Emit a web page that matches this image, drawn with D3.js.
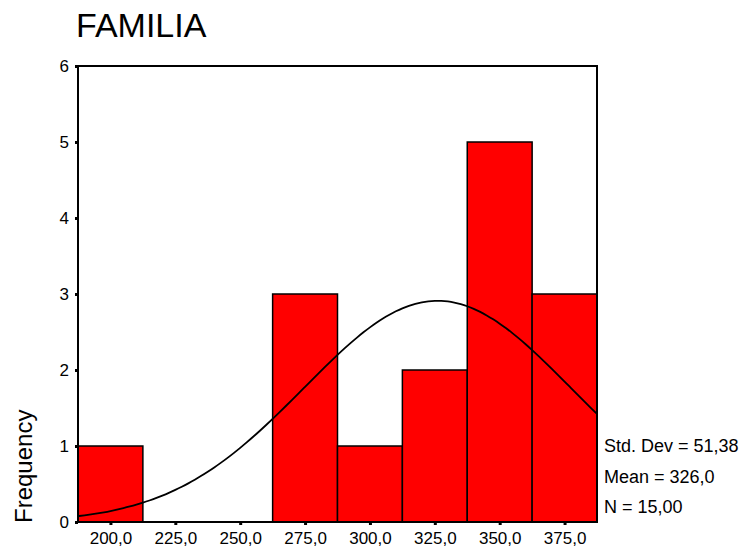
<!DOCTYPE html>
<html>
<head>
<meta charset="utf-8">
<script src="https://cdn.jsdelivr.net/npm/d3@7"></script>
<style>
  body { margin: 0; background: #fff; }
  svg text { font-family: "Liberation Sans", Arial, sans-serif; fill: #000; }
</style>
</head>
<body>
<div id="chart"></div>
<script>
// histogram bins (midpoints) and counts
const binMids = [200, 225, 250, 275, 300, 325, 350, 375];
const counts = [1, 0, 0, 3, 1, 2, 5, 3];
const xTicks = [200, 225, 250, 275, 300, 325, 350, 375];
const yTicks = [0, 1, 2, 3, 4, 5, 6];
const stats = {sd: 51.38, mean: 326.0, n: 15};
const statLabels = ["Std. Dev = 51,38", "Mean = 326,0", "N = 15,00"];
const binWidth = 25;

const margin = {top: 66, right: 145, bottom: 26, left: 78},
  width = 742 - margin.left - margin.right,
  height = 548 - margin.top - margin.bottom;

const svg = d3.select("#chart")
  .append("svg")
    .attr("width", 742)
    .attr("height", 548)
  .append("g")
    .attr("transform", "translate(" + margin.left + "," + margin.top + ")");

const x = d3.scaleLinear()
  .domain([187.5, 387.5])
  .range([0, width]);

const y = d3.scaleLinear()
  .domain([0, 6])
  .range([height, 0]);

// title
svg.append("text")
  .attr("x", -2)
  .attr("y", -29)
  .style("font-size", "34px")
  .text("FAMILIA");

// bars
svg.append("g")
  .selectAll("rect")
  .data(binMids.map(function(m, i) { return {mid: m, count: counts[i]}; }).filter(function(d) { return d.count > 0; }))
  .enter()
  .append("rect")
    .attr("x", function(d) { return x(d.mid - binWidth / 2); })
    .attr("y", function(d) { return y(d.count); })
    .attr("width", function(d) { return x(d.mid + binWidth / 2) - x(d.mid - binWidth / 2); })
    .attr("height", function(d) { return height - y(d.count); })
    .attr("fill", "#ff0000")
    .attr("stroke", "#000")
    .attr("stroke-width", 1.5);

// normal curve from mean / sd / N
const curvePts = d3.range(187.5, 387.6, 2.5).map(function(v) {
  const z = (v - stats.mean) / stats.sd;
  return [v, stats.n * binWidth / (stats.sd * Math.sqrt(2 * Math.PI)) * Math.exp(-0.5 * z * z)];
});
svg.append("path")
  .datum(curvePts)
  .attr("fill", "none")
  .attr("stroke", "#000")
  .attr("stroke-width", 1.8)
  .attr("d", d3.line()
    .x(function(d) { return x(d[0]); })
    .y(function(d) { return y(d[1]); })
    .curve(d3.curveBasis));

// frame
svg.append("rect")
  .attr("x", 0)
  .attr("y", 0)
  .attr("width", width)
  .attr("height", height)
  .attr("fill", "none")
  .attr("stroke", "#000")
  .attr("stroke-width", 2);

// Y axis
const yAxis = svg.append("g")
  .call(d3.axisLeft(y).tickValues(yTicks).tickSize(3).tickPadding(6).tickFormat(d3.format("d")));
yAxis.select(".domain").remove();
yAxis.selectAll(".tick line").attr("stroke-width", 3);
yAxis.selectAll(".tick text").style("font-size", "17px").attr("font-family", null);

// X axis
const xAxis = svg.append("g")
  .attr("transform", "translate(0," + height + ")")
  .call(d3.axisBottom(x).tickValues(xTicks).tickSize(3).tickPadding(7)
    .tickFormat(function(d) { return d3.format(".1f")(d).replace(".", ","); }));
xAxis.select(".domain").remove();
xAxis.selectAll(".tick line").attr("stroke-width", 3);
xAxis.selectAll(".tick text").style("font-size", "17px").attr("font-family", null);

// Y label
svg.append("text")
  .attr("transform", "translate(-46," + (height + 1) + ") rotate(-90)")
  .style("font-size", "24px")
  .text("Frequency");

// stats
svg.append("g")
  .selectAll("text")
  .data(statLabels)
  .enter()
  .append("text")
    .attr("x", width + 7)
    .attr("y", function(d, i) { return 386 + i * 30.5; })
    .style("font-size", "18px")
    .text(function(d) { return d; });
</script>
</body>
</html>
